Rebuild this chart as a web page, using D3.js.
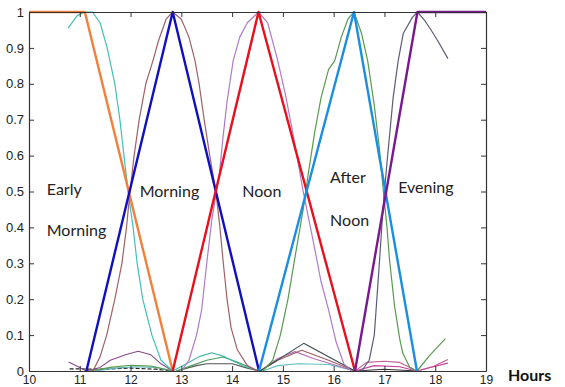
<!DOCTYPE html>
<html><head><meta charset="utf-8">
<script src="https://cdn.jsdelivr.net/npm/d3@7"></script>
<style>
html,body{margin:0;padding:0;background:#fff;}
svg{display:block;}
.tick text{font-family:"Liberation Sans",Arial,sans-serif;font-size:13px;fill:#222;}
.xax .tick text{font-size:12px;}
.ann{font-family:Lato,"Open Sans",sans-serif;font-size:16px;fill:#222;}
</style></head>
<body>
<svg id="c" width="565" height="387"></svg>
<script>
// ---- data ----
const xTicks = [10,11,12,13,14,15,16,17,18,19];
const yTicks = [0,0.1,0.2,0.3,0.4,0.5,0.6,0.7,0.8,0.9,1];

// main triangular membership functions
const earlyMorning = [[10,1],[11.1,1],[12.83,0]];
const morning      = [[11.13,0],[12.83,1],[14.53,0]];
const noon         = [[12.83,0],[14.52,1],[16.42,0]];
const afterNoon    = [[14.53,0],[16.4,1],[17.64,0]];
const evening      = [[16.42,0],[17.65,1],[19,1]];

// fitted curves (thin)
const fitEarly = [[10.77,0.955],[10.95,0.99],[11.1,1],[11.25,1],[11.4,0.97],[11.54,0.9],[11.69,0.8],[11.79,0.7],[11.87,0.6],[11.95,0.5],[12.05,0.4],[12.13,0.3],[12.24,0.2],[12.42,0.1],[12.6,0.03],[12.83,0]];
const fitMorning = [[11.26,0],[11.4,0.04],[11.53,0.1],[11.69,0.2],[11.83,0.3],[11.92,0.4],[11.99,0.5],[12.07,0.6],[12.17,0.7],[12.3,0.8],[12.44,0.864],[12.55,0.92],[12.7,0.98],[12.83,1],[13.0,0.98],[13.15,0.93],[13.27,0.864],[13.35,0.8],[13.45,0.7],[13.56,0.6],[13.68,0.5],[13.76,0.4],[13.82,0.31],[13.9,0.2],[13.98,0.12],[14.1,0.06],[14.3,0.015],[14.5,0]];
const fitNoon = [[13.0,0],[13.15,0.03],[13.3,0.1],[13.4,0.17],[13.5,0.3],[13.6,0.42],[13.75,0.55],[13.82,0.65],[13.9,0.75],[14.02,0.864],[14.15,0.93],[14.3,0.97],[14.52,1],[14.7,0.97],[14.9,0.864],[15.05,0.77],[15.2,0.66],[15.4,0.5],[15.6,0.36],[15.75,0.25],[15.9,0.17],[16.05,0.08],[16.2,0.02],[16.35,0]];
const fitAfter = [[14.6,0],[14.8,0.03],[14.95,0.1],[15.1,0.2],[15.23,0.31],[15.4,0.45],[15.5,0.55],[15.62,0.66],[15.75,0.76],[15.9,0.84],[16.02,0.864],[16.15,0.93],[16.28,0.98],[16.4,1],[16.55,0.94],[16.67,0.864],[16.8,0.74],[16.9,0.62],[16.98,0.5],[17.05,0.4],[17.1,0.31],[17.2,0.18],[17.3,0.09],[17.36,0.05],[17.5,0.01],[17.64,0],[17.9,0.045],[18.2,0.09]];
const fitEvening = [[16.55,0],[16.7,0.03],[16.8,0.1],[16.85,0.2],[16.9,0.3],[16.97,0.45],[17.05,0.58],[17.09,0.64],[17.17,0.76],[17.27,0.864],[17.37,0.94],[17.55,0.985],[17.65,1],[17.8,0.975],[17.93,0.947],[18.05,0.92],[18.25,0.87]];

// small residual curves near zero
const smallPurple1 = [[10.78,0.025],[11.0,0.01],[11.13,0],[11.4,0.01],[11.6,0.03],[11.9,0.045],[12.15,0.055],[12.4,0.045],[12.6,0.02],[12.83,0]];
const smallGreen1  = [[11.2,0],[11.6,0.01],[12.0,0.016],[12.4,0.014],[12.83,0]];
const smallTeal1   = [[11.3,0],[11.7,0.008],[12.1,0.012],[12.5,0.01],[12.83,0]];
const smallDark1   = [[10.8,0.006],[11.5,0.005],[12.0,0.008],[12.5,0.005],[12.83,0]];
const smallTeal2   = [[12.83,0],[13.1,0.02],[13.35,0.04],[13.6,0.051],[13.85,0.04],[14.2,0.015],[14.53,0]];
const smallGreen2  = [[12.9,0],[13.2,0.015],[13.5,0.03],[13.82,0.039],[14.1,0.025],[14.53,0]];
const smallDark2   = [[12.9,0],[13.3,0.015],[13.5,0.02],[14.0,0.02],[14.3,0.008],[14.53,0]];
const smallSlate3  = [[14.55,0],[15.0,0.04],[15.41,0.077],[15.9,0.04],[16.42,0]];
const smallBrown3  = [[14.55,0],[14.9,0.03],[15.37,0.058],[15.9,0.03],[16.42,0]];
const smallLilac3  = [[14.55,0],[14.9,0.035],[15.24,0.054],[15.6,0.035],[16.3,0.005]];
const smallTeal3   = [[14.6,0],[14.9,0.015],[15.3,0.02],[15.9,0.018],[16.42,0]];
const smallPink4   = [[16.42,0],[16.65,0.024],[17.0,0.027],[17.3,0.024],[17.64,0]];
const smallMagenta4= [[16.42,0],[16.8,0.015],[17.3,0.012],[17.64,0],[17.9,0.01],[18.25,0.022]];
const smallDark4   = [[16.42,0],[17.0,0.005],[17.64,0]];
const smallPink5   = [[17.64,0],[17.95,0.012],[18.25,0.032]];

const labels = [
  {t:"Early", x:10.35, y:0.49},
  {t:"Morning", x:10.35, y:0.375},
  {t:"Morning", x:12.18, y:0.485},
  {t:"Noon", x:14.2, y:0.485},
  {t:"After", x:15.93, y:0.525},
  {t:"Noon", x:15.93, y:0.405},
  {t:"Evening", x:17.27, y:0.495}
];

// ---- drawing ----
const svg = d3.select("#c");
const x = d3.scaleLinear().domain([10,19]).range([29,486]);
const y = d3.scaleLinear().domain([0,1]).range([371,12]);
const line = d3.line().x(d=>x(d[0])).y(d=>y(d[1]));

function draw(data, color, w, dash){
  svg.append("path").attr("d", line(data)).attr("fill","none")
    .attr("stroke", color).attr("stroke-width", w)
    .attr("stroke-linejoin","round")
    .attr("stroke-dasharray", dash || null);
}

// small curves
draw(smallDark1, "#222", 1.2, "4,2");
draw(smallTeal1, "#5ab0b0", 1.1);
draw(smallGreen1, "#5a9a50", 1.1);
draw(smallPurple1, "#8a4a8a", 1.1);
draw(smallDark2, "#555", 1.1);
draw(smallGreen2, "#4a9a60", 1.1);
draw(smallTeal2, "#40b8a8", 1.1);
draw(smallTeal3, "#60c0c0", 1.1);
draw(smallLilac3, "#b070c0", 1.1);
draw(smallBrown3, "#a05a60", 1.1);
draw(smallSlate3, "#3a4a4a", 1.1);
draw(smallDark4, "#333", 1.1);
draw(smallMagenta4, "#c0409a", 1.1);
draw(smallPink4, "#c06090", 1.1);
draw(smallPink5, "#d05090", 1.1);

// fitted curves
draw(fitEarly, "#40c0b8", 1.2);
draw(fitMorning, "#a0606a", 1.2);
draw(fitNoon, "#b07ac8", 1.2);
draw(fitAfter, "#5a9a50", 1.2);
draw(fitEvening, "#5c5c78", 1.2);

// main membership functions
draw(earlyMorning, "#f0803c", 2.4);
draw(morning, "#1010c0", 2.4);
draw(noon, "#e8101c", 2.4);
draw(afterNoon, "#1a8ee0", 2.4);
draw(evening, "#7a1890", 2.4);

// axes
const axCol = "#333";
const gB = svg.append("g").attr("class","xax").attr("transform","translate(0,371)")
  .call(d3.axisBottom(x).tickValues(xTicks).tickFormat(d3.format("d")).tickSizeInner(-5).tickSizeOuter(0).tickPadding(4));
const gT = svg.append("g").attr("transform","translate(0,12)")
  .call(d3.axisTop(x).tickValues(xTicks).tickFormat("").tickSizeInner(-5).tickSizeOuter(0));
const gL = svg.append("g").attr("transform","translate(29,0)")
  .call(d3.axisLeft(y).tickValues(yTicks).tickFormat(d3.format("")).tickSizeInner(-5).tickSizeOuter(0).tickPadding(5));
const gR = svg.append("g").attr("transform","translate(486,0)")
  .call(d3.axisRight(y).tickValues(yTicks).tickFormat("").tickSizeInner(-5).tickSizeOuter(0));
[gB,gT,gL,gR].forEach(g=>{
  g.selectAll("path.domain").attr("stroke",axCol).attr("stroke-width",1.2);
  g.selectAll(".tick line").attr("stroke",axCol);
});

// annotations
labels.forEach(l=>{
  svg.append("text").attr("class","ann").attr("x",x(l.x)).attr("y",y(l.y)).text(l.t);
});
svg.append("text").attr("x",508).attr("y",381)
  .attr("font-family","Lato,'Open Sans',sans-serif").attr("font-weight","bold")
  .attr("font-size","16px").attr("fill","#111").text("Hours");
</script>
</body></html>
